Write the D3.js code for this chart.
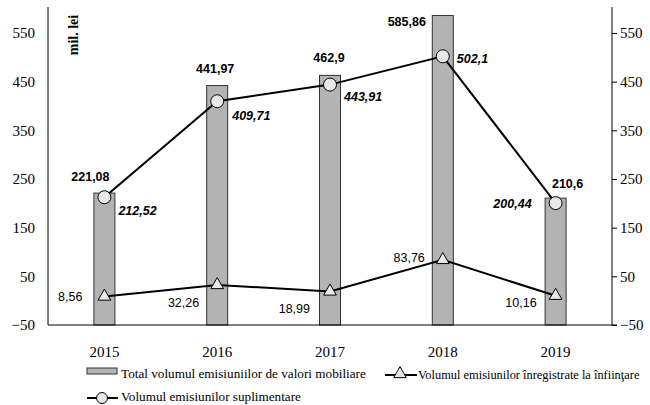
<!DOCTYPE html>
<html><head><meta charset="utf-8">
<script src="https://cdn.jsdelivr.net/npm/d3@7"></script>
<style>
body{margin:0;background:#fff;}
svg{display:block;}
.serif{font-family:"Liberation Serif","Times New Roman",serif;}
.sans{font-family:"Liberation Sans",Arial,sans-serif;}
</style></head>
<body>
<svg id="c" width="650" height="405"></svg>
<script>
// ---- data ----
const years = ["2015","2016","2017","2018","2019"];
const totalValues = [221.08, 441.97, 462.9, 585.86, 210.6];
const initialValues = [8.56, 32.26, 18.99, 83.76, 10.16];
const supplementaryValues = [212.52, 409.71, 443.91, 502.1, 200.44];
const totalLabels = ["221,08","441,97","462,9","585,86","210,6"];
const initialLabels = ["8,56","32,26","18,99","83,76","10,16"];
const supplementaryLabels = ["212,52","409,71","443,91","502,1","200,44"];
const tickValues = [-50, 50, 150, 250, 350, 450, 550];
const unitLabel = "mil. lei";
const legendNames = ["Total volumul emisiuniilor de valori mobiliare",
  "Volumul emisiunilor înregistrate la înfiinţare",
  "Volumul emisiunilor suplimentare"];

// ---- layout (label offsets) ----
const totalDx = [-14, -2, -1, -36, 12], totalDy = [-12, -13, -13, 10, -10];
const suppDx = [14, 15, 14, 14, -24], suppDy = [18, 19, 16, 7, 5];
const suppAnchor = ["start","start","start","start","end"];
const initDx = [-22, -18, -20, -18, -19], initDy = [5, 22, 22, 2, 11];

const svg = d3.select("#c");
const left = 48, right = 612, bottom = 325;
const y = d3.scaleLinear().domain([-50, 600]).range([bottom, bottom - 650 * 0.4867]);
const x = d3.scaleBand().domain(years).range([left, right]);
const cx = d => x(d) + x.bandwidth() / 2;
const barW = 21;

// bars
svg.append("g").selectAll("rect").data(years).join("rect")
  .attr("x", d => cx(d) - barW / 2)
  .attr("y", (d, i) => y(totalValues[i]))
  .attr("width", barW)
  .attr("height", (d, i) => y(-50) - y(totalValues[i]))
  .attr("fill", "#b3b3b3").attr("stroke", "#333").attr("stroke-width", 1);

// axes
const la = svg.append("g").attr("transform", `translate(${left},0)`)
  .call(d3.axisLeft(y).tickValues(tickValues).tickSize(0).tickPadding(13));
la.select(".domain").remove();
la.selectAll("text").attr("class", "serif").style("font-size", "15px").attr("fill", "#000");

const ra = svg.append("g").attr("transform", `translate(${right},0)`)
  .call(d3.axisRight(y).tickValues(tickValues).tickSize(5).tickPadding(3));
ra.select(".domain").remove();
ra.selectAll("line").attr("stroke", "#000");
ra.selectAll("text").attr("class", "serif").style("font-size", "15px").attr("fill", "#000");

svg.append("line").attr("x1", left).attr("x2", left).attr("y1", 7).attr("y2", bottom).attr("stroke", "#000");
svg.append("line").attr("x1", right).attr("x2", right).attr("y1", 7).attr("y2", bottom).attr("stroke", "#000");
svg.append("line").attr("x1", left).attr("x2", right + 5).attr("y1", bottom).attr("y2", bottom).attr("stroke", "#000");

const ba = svg.append("g").attr("transform", `translate(0,${bottom})`)
  .call(d3.axisBottom(x).tickSize(0).tickPadding(21));
ba.select(".domain").remove();
ba.selectAll("text").attr("class", "serif").style("font-size", "15px").attr("fill", "#000");

// unit label
svg.append("text").attr("class", "serif").attr("transform", "translate(78,35) rotate(-90)")
  .attr("text-anchor", "middle").style("font-size", "14px").style("font-weight", "bold").text(unitLabel);

// lines
const line = d3.line().x(d => d[0]).y(d => d[1]);
const suppPts = years.map((d, i) => [cx(d), y(supplementaryValues[i])]);
const initPts = years.map((d, i) => [cx(d), y(initialValues[i])]);
svg.append("path").attr("d", line(suppPts)).attr("fill", "none").attr("stroke", "#000").attr("stroke-width", 2);
svg.append("path").attr("d", line(initPts)).attr("fill", "none").attr("stroke", "#000").attr("stroke-width", 2);

svg.append("g").selectAll("circle").data(suppPts).join("circle")
  .attr("cx", d => d[0]).attr("cy", d => d[1]).attr("r", 6.5)
  .attr("fill", "#e8e8e8").attr("stroke", "#000").attr("stroke-width", 1);
const tri = d3.symbol().type(d3.symbolTriangle).size(70);
svg.append("g").selectAll("path").data(initPts).join("path")
  .attr("d", tri).attr("transform", d => `translate(${d[0]},${d[1]})`)
  .attr("fill", "#e8e8e8").attr("stroke", "#000").attr("stroke-width", 1);

// labels
svg.append("g").selectAll("text").data(years).join("text").attr("class", "sans")
  .attr("x", (d, i) => cx(d) + totalDx[i]).attr("y", (d, i) => y(totalValues[i]) + totalDy[i])
  .attr("text-anchor", "middle").style("font-size", "12.5px").style("font-weight", "bold")
  .text((d, i) => totalLabels[i]);
svg.append("g").selectAll("text").data(years).join("text").attr("class", "sans")
  .attr("x", (d, i) => cx(d) + suppDx[i]).attr("y", (d, i) => y(supplementaryValues[i]) + suppDy[i])
  .attr("text-anchor", (d, i) => suppAnchor[i]).style("font-size", "12.5px")
  .style("font-weight", "bold").style("font-style", "italic")
  .text((d, i) => supplementaryLabels[i]);
svg.append("g").selectAll("text").data(years).join("text").attr("class", "sans")
  .attr("x", (d, i) => cx(d) + initDx[i]).attr("y", (d, i) => y(initialValues[i]) + initDy[i])
  .attr("text-anchor", "end").style("font-size", "12.5px")
  .text((d, i) => initialLabels[i]);

// legend
const lg = svg.append("g");
lg.append("rect").attr("x", 87).attr("y", 368).attr("width", 30).attr("height", 6)
  .attr("fill", "#b3b3b3").attr("stroke", "#333");
lg.append("text").attr("class", "serif").attr("x", 121).attr("y", 378).style("font-size", "13.2px").text(legendNames[0]);
lg.append("line").attr("x1", 385).attr("x2", 417).attr("y1", 375).attr("y2", 375).attr("stroke", "#000").attr("stroke-width", 2);
lg.append("path").attr("d", tri).attr("transform", "translate(400,374)").attr("fill", "#e8e8e8").attr("stroke", "#000");
lg.append("text").attr("class", "serif").attr("x", 418).attr("y", 379).style("font-size", "12.4px").text(legendNames[1]);
lg.append("line").attr("x1", 87).attr("x2", 118).attr("y1", 398).attr("y2", 398).attr("stroke", "#000").attr("stroke-width", 2);
lg.append("circle").attr("cx", 102).attr("cy", 398).attr("r", 5.5).attr("fill", "#e8e8e8").attr("stroke", "#000");
lg.append("text").attr("class", "serif").attr("x", 121).attr("y", 401).style("font-size", "13.2px").text(legendNames[2]);
</script>
</body></html>
